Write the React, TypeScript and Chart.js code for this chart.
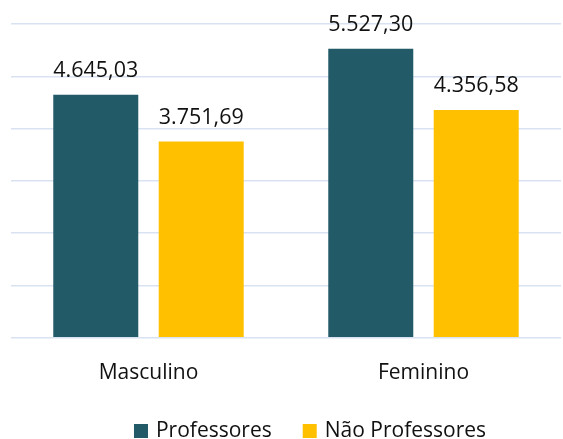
import React, { useEffect, useRef } from "react";
import { Chart, registerables } from "chart.js";

Chart.register(...registerables);

const categories = ["Masculino", "Feminino"];
const seriesNames = ["Professores", "Não Professores"];
const professores = [4645.03, 5527.3];
const naoProfessores = [3751.69, 4356.58];
const seriesColors = ["#235A68", "#FFC000"];
const yMax = 6000;
const yStep = 1000;

const FONT = "'Open Sans', sans-serif";

function fmtBR(v: number): string {
  const fixed = v.toFixed(2);
  const [intPart, dec] = fixed.split(".");
  const withDots = intPart.replace(/\B(?=(\d{3})+(?!\d))/g, ".");
  return withDots + "," + dec;
}

const dataLabelPlugin = {
  id: "dataLabels",
  afterDatasetsDraw(chart: any) {
    const ctx = chart.ctx;
    ctx.save();
    ctx.font = `21.5px ${FONT}`;
    ctx.fillStyle = "#111111";
    ctx.textAlign = "center";
    ctx.textBaseline = "alphabetic";
    chart.data.datasets.forEach((ds: any, i: number) => {
      const meta = chart.getDatasetMeta(i);
      meta.data.forEach((bar: any, j: number) => {
        ctx.fillText(fmtBR(ds.data[j]), bar.x, bar.y - 18);
      });
    });
    ctx.restore();
  },
};

const legendPlugin = {
  id: "customLegend",
  afterDraw(chart: any) {
    const ctx = chart.ctx;
    ctx.save();
    ctx.font = `21px ${FONT}`;
    ctx.textBaseline = "middle";
    ctx.textAlign = "left";
    const box = 14;
    const gapBoxText = 8;
    const gapItems = 31;
    const items = chart.data.datasets.map((ds: any) => ({
      label: ds.label,
      color: ds.backgroundColor,
      w: box + gapBoxText + ctx.measureText(ds.label).width,
    }));
    const total = items.reduce((a: number, b: any) => a + b.w, 0) + gapItems * (items.length - 1);
    const centerX = (chart.chartArea.left + chart.chartArea.right) / 2 + 24;
    let x = centerX - total / 2;
    const y = chart.height - 8;
    items.forEach((it: any) => {
      ctx.fillStyle = it.color;
      ctx.fillRect(x, y - box / 2, box, box);
      ctx.fillStyle = "#111111";
      ctx.fillText(it.label, x + box + gapBoxText, y);
      x += it.w + gapItems;
    });
    ctx.restore();
  },
};

export default function App() {
  const ref = useRef<HTMLCanvasElement | null>(null);
  useEffect(() => {
    if (!ref.current) return;
    const chart = new Chart(ref.current, {
      type: "bar",
      data: {
        labels: categories,
        datasets: [
          {
            label: seriesNames[0],
            data: professores,
            backgroundColor: seriesColors[0],
            categoryPercentage: 0.767,
            barPercentage: 0.806,
          },
          {
            label: seriesNames[1],
            data: naoProfessores,
            backgroundColor: seriesColors[1],
            categoryPercentage: 0.767,
            barPercentage: 0.806,
          },
        ],
      },
      options: {
        animation: false,
        responsive: false,
        maintainAspectRatio: false,
        layout: { padding: { left: 11, right: 2, top: 24, bottom: 30 } },
        plugins: {
          legend: { display: false },
          tooltip: { enabled: false },
        },
        scales: {
          x: {
            grid: { display: false, drawTicks: false },
            border: { display: false },
            ticks: {
              color: "#111111",
              font: { family: FONT, size: 21 },
              padding: 23,
            },
          },
          y: {
            min: 0,
            max: yMax,
            ticks: { display: false, stepSize: yStep },
            grid: { color: "#D9E2F1", lineWidth: 1.5, drawTicks: false },
            border: { display: false },
          },
        },
      },
      plugins: [dataLabelPlugin, legendPlugin],
    });
    return () => chart.destroy();
  }, []);
  return (
    <div style={{ position: "absolute", left: 0, top: 0, width: 563, height: 439, background: "#fff" }}>
      <canvas ref={ref} width={563} height={439} style={{ width: 563, height: 439 }} />
    </div>
  );
}
